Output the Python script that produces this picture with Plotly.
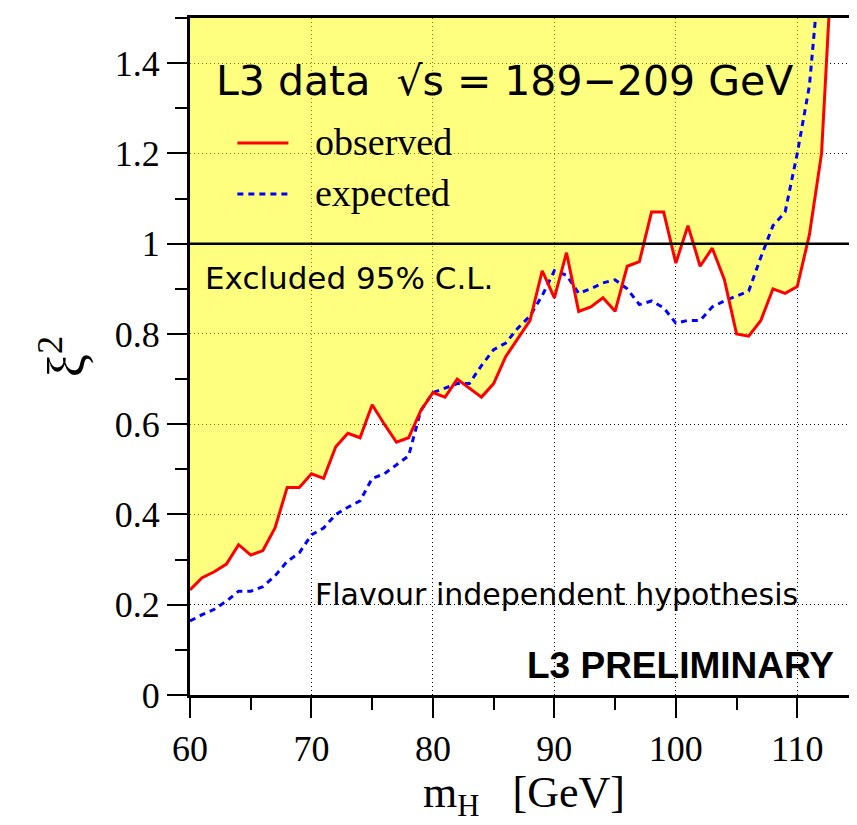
import plotly.graph_objects as go

# ---------------- data ----------------
mass_obs = list(range(60, 114))
xi2_observed = [0.233, 0.26, 0.273, 0.29, 0.333, 0.31, 0.32, 0.37, 0.46, 0.46,
                0.49, 0.48, 0.55, 0.58, 0.57, 0.643, 0.60, 0.56, 0.57, 0.63,
                0.67, 0.66, 0.70, 0.68, 0.66, 0.69, 0.75, 0.79, 0.83, 0.94,
                0.88, 0.98, 0.85, 0.86, 0.88, 0.85, 0.95, 0.96, 1.07, 1.07,
                0.957, 1.04, 0.95, 0.99, 0.92, 0.80, 0.795, 0.83, 0.90, 0.89,
                0.905, 1.02, 1.20, 1.70]

mass_exp = list(range(60, 113))
xi2_expected = [0.164, 0.178, 0.19, 0.208, 0.23, 0.23, 0.24, 0.264, 0.296, 0.315,
                0.355, 0.37, 0.40, 0.416, 0.43, 0.48, 0.49, 0.51, 0.53, 0.63,
                0.67, 0.68, 0.69, 0.69, 0.73, 0.765, 0.78, 0.813, 0.84, 0.885,
                0.94, 0.93, 0.89, 0.90, 0.913, 0.92, 0.90, 0.865, 0.873, 0.858,
                0.824, 0.83, 0.83, 0.86, 0.873, 0.884, 0.895, 0.97, 1.04, 1.07,
                1.20, 1.35, 1.65]

x_tickvals = [60, 70, 80, 90, 100, 110]
x_ticktext = ["60", "70", "80", "90", "100", "110"]
y_tickvals = [0, 0.2, 0.4, 0.6, 0.8, 1.0, 1.2, 1.4]
y_ticktext = ["0", "0.2", "0.4", "0.6", "0.8", "1", "1.2", "1.4"]

X_RANGE = [60, 115]
Y_RANGE = [0, 1.5]
EXCLUSION_LEVEL = 1.0

SERIF = "Liberation Serif, Times New Roman, serif"
COMIC = "DejaVu Sans, sans-serif"

fig = go.Figure()

# excluded region: between observed curve and top of the plot
fig.add_trace(go.Scatter(x=mass_obs, y=xi2_observed, mode="lines",
                         line=dict(width=0, color="red"), showlegend=False,
                         hoverinfo="skip"))
fig.add_trace(go.Scatter(x=mass_obs, y=[Y_RANGE[1]] * len(mass_obs), mode="lines",
                         line=dict(width=0), fill="tonexty",
                         fillcolor="rgba(255,255,0,0.5)", showlegend=False,
                         hoverinfo="skip"))

fig.add_trace(go.Scatter(x=mass_exp, y=xi2_expected, mode="lines", name="expected",
                         line=dict(color="#0000ff", width=3, dash="6px,5px"),
                         showlegend=False))
fig.add_trace(go.Scatter(x=mass_obs, y=xi2_observed, mode="lines", name="observed",
                         line=dict(color="#ff0000", width=3), showlegend=False))

# horizontal line at xi^2 = 1
fig.add_shape(type="line", xref="paper", yref="y", x0=0, x1=1,
              y0=EXCLUSION_LEVEL, y1=EXCLUSION_LEVEL,
              line=dict(color="black", width=2.5), layer="above")

# legend samples
fig.add_shape(type="line", xref="x", yref="y", x0=63.9, x1=68.1, y0=1.223, y1=1.223,
              line=dict(color="#ff0000", width=3))
fig.add_shape(type="line", xref="x", yref="y", x0=63.9, x1=68.1, y0=1.11, y1=1.11,
              line=dict(color="#0000ff", width=3, dash="6px,5px"))

ann = []
ann.append(dict(x=62.0, y=1.36, text="L3 data  \u221as = 189\u2212209 GeV",
                xanchor="left", yanchor="middle", showarrow=False,
                font=dict(family=COMIC, size=41, color="black")))
ann.append(dict(x=70.15, y=1.225, text="observed", xanchor="left", yanchor="middle",
                showarrow=False, font=dict(family=SERIF, size=38, color="black")))
ann.append(dict(x=70.15, y=1.112, text="expected", xanchor="left", yanchor="middle",
                showarrow=False, font=dict(family=SERIF, size=38, color="black")))
ann.append(dict(x=61.1, y=0.924, text="Excluded 95% C.L.", xanchor="left",
                yanchor="middle", showarrow=False,
                font=dict(family=COMIC, size=31, color="black")))
ann.append(dict(x=70.15, y=0.222, text="Flavour independent hypothesis",
                xanchor="left", yanchor="middle", showarrow=False,
                font=dict(family=COMIC, size=30, color="black")))
ann.append(dict(x=113.2, y=0.066, text="<b>L3 PRELIMINARY</b>", xanchor="right",
                yanchor="middle", showarrow=False,
                font=dict(family="Liberation Sans, Arial, sans-serif", size=37,
                          color="black")))
# x-axis title
ann.append(dict(xref="paper", yref="paper", x=0.5, y=-0.192, xanchor="center",
                yanchor="bottom", showarrow=False,
                text="m<sub>H</sub>\u00a0\u00a0\u00a0[GeV]",
                font=dict(family=SERIF, size=44, color="black")))

fig.update_layout(
    width=857, height=825,
    margin=dict(l=182, r=4, t=10, b=138),
    plot_bgcolor="white", paper_bgcolor="white",
    annotations=ann,
    showlegend=False,
)

fig.update_xaxes(
    range=X_RANGE, tickmode="array", tickvals=x_tickvals, ticktext=x_ticktext,
    ticks="outside", ticklen=20, tickwidth=2, tickcolor="black",
    minor=dict(ticks="outside", ticklen=12, tickwidth=2, dtick=5, tick0=60,
               tickcolor="black", showgrid=False),
    showline=True, linewidth=3, linecolor="black", mirror=True,
    showgrid=True, gridcolor="black", gridwidth=1, griddash="1px,3px",
    zeroline=False,
    tickfont=dict(family=SERIF, size=36, color="black"),
)
fig.update_yaxes(
    range=Y_RANGE, tickmode="array", tickvals=y_tickvals, ticktext=y_ticktext,
    ticks="outside", ticklen=20, tickwidth=2, tickcolor="black",
    minor=dict(ticks="outside", ticklen=12, tickwidth=2, dtick=0.1, tick0=0,
               tickcolor="black", showgrid=False),
    showline=True, linewidth=3, linecolor="black", mirror=True,
    showgrid=True, gridcolor="black", gridwidth=1, griddash="1px,3px",
    zeroline=False,
    tickfont=dict(family=SERIF, size=36, color="black"),
    title=dict(text="\u03be<sup>2</sup>",
               font=dict(family=SERIF, size=52, color="black"), standoff=14),
)

fig.write_html("out.html")
